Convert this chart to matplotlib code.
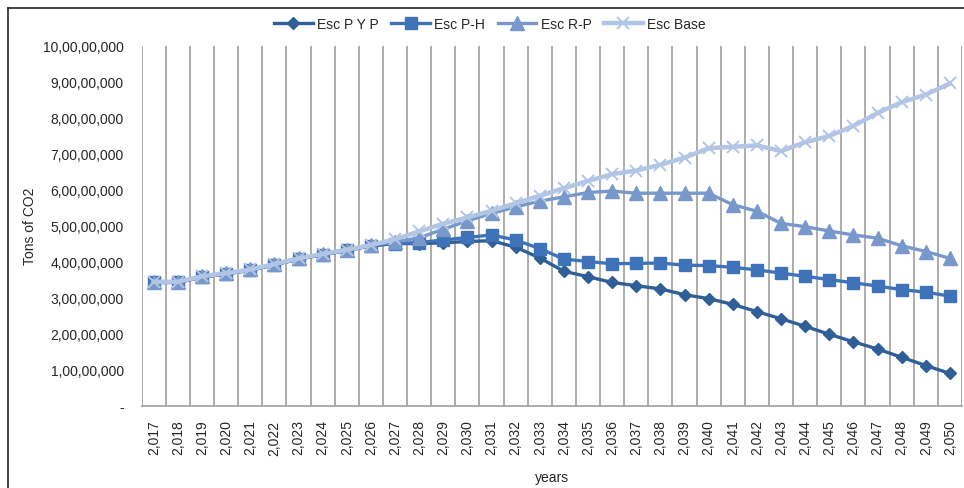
import matplotlib
matplotlib.use("Agg")
import matplotlib.pyplot as plt
from matplotlib.lines import Line2D

years = list(range(2017, 2051))
year_labels = [f"{y // 1000},{y % 1000:03d}" for y in years]

esc_pyp = [3.42, 3.42, 3.57, 3.66, 3.76, 3.91, 4.07, 4.19, 4.31, 4.44,
           4.50, 4.50, 4.52, 4.56, 4.58, 4.40, 4.10, 3.73, 3.58, 3.42,
           3.33, 3.24, 3.08, 2.97, 2.81, 2.61, 2.41, 2.20, 1.98, 1.77,
           1.57, 1.34, 1.11, 0.89]
esc_ph = [3.42, 3.42, 3.57, 3.66, 3.76, 3.91, 4.07, 4.19, 4.31, 4.44,
          4.50, 4.53, 4.60, 4.67, 4.74, 4.60, 4.36, 4.07, 4.00, 3.94,
          3.95, 3.96, 3.90, 3.89, 3.84, 3.77, 3.68, 3.59, 3.50, 3.41,
          3.32, 3.22, 3.15, 3.04]
esc_rp = [3.44, 3.44, 3.59, 3.68, 3.78, 3.93, 4.09, 4.21, 4.33, 4.46,
          4.55, 4.66, 4.90, 5.13, 5.34, 5.52, 5.68, 5.80, 5.92, 5.96,
          5.90, 5.90, 5.90, 5.90, 5.58, 5.40, 5.06, 4.97, 4.85, 4.74,
          4.65, 4.44, 4.28, 4.09]
esc_base = [3.44, 3.44, 3.59, 3.68, 3.78, 3.93, 4.09, 4.21, 4.33, 4.46,
            4.62, 4.84, 5.05, 5.23, 5.41, 5.62, 5.83, 6.04, 6.24, 6.43,
            6.53, 6.69, 6.89, 7.15, 7.19, 7.23, 7.07, 7.32, 7.49, 7.77,
            8.13, 8.43, 8.64, 8.95]
scale = 1e7

y_ticks = [0, 1, 2, 3, 4, 5, 6, 7, 8, 9, 10]
y_labels = ["-", "1,00,00,000", "2,00,00,000", "3,00,00,000", "4,00,00,000",
            "5,00,00,000", "6,00,00,000", "7,00,00,000", "8,00,00,000",
            "9,00,00,000", "10,00,00,000"]

series_names = ["Esc P Y P", "Esc P-H", "Esc R-P", "Esc Base"]

plt.rcParams['font.family'] = ['Liberation Sans', 'DejaVu Sans']
txt = '#262626'

fig = plt.figure(figsize=(9.64, 4.89), dpi=100)
ax = fig.add_axes([141.7 / 964, 1 - 406.5 / 489, (962 - 141.7) / 964, (406.5 - 46.7) / 489])

xs = list(range(len(years)))
styles = [
    dict(color='#2F5F96', marker='D', markersize=6.5, lw=2.4),
    dict(color='#3F73B9', marker='s', markersize=9, lw=2.4),
    dict(color='#7898CC', marker='^', markersize=9.5, lw=2.4),
    dict(color='#B2C5E5', marker='x', markersize=9, lw=3.2, mew=1.4),
]
for vals, name, st in zip([esc_pyp, esc_ph, esc_rp, esc_base], series_names, styles):
    ax.plot(xs, [v * scale for v in vals], label=name, zorder=3, **st)

ax.set_xlim(-0.5, len(years) - 0.5)
ax.set_ylim(0, 10 * scale)
ax.set_xticks(xs)
ax.set_xticklabels(year_labels, rotation=90, fontsize=10, color=txt)
ax.set_xticks([i - 0.5 for i in range(len(years) + 1)], minor=True)
ax.grid(True, which='minor', axis='x', color='#A6A6A6', lw=1.3)
ax.tick_params(axis='x', which='both', length=0, pad=10)
ax.set_yticks([t * scale for t in y_ticks])
ax.set_yticklabels(y_labels, fontsize=10, color=txt)
ax.tick_params(axis='y', length=0, pad=13)
for s in ['top', 'right', 'left']:
    ax.spines[s].set_visible(False)
ax.spines['bottom'].set_color('#A6A6A6')
ax.spines['bottom'].set_linewidth(1.3)

ax.set_xlabel("years", fontsize=10, color=txt, labelpad=11)
ax.set_ylabel("Tons of CO2", fontsize=10, color=txt, labelpad=4)

leg = fig.legend(loc='center', bbox_to_anchor=(0.508, 1 - 25 / 489), ncol=4, frameon=False,
                 fontsize=10, handlelength=2.8, columnspacing=0.9, handletextpad=0.3)
for t in leg.get_texts():
    t.set_color(txt)

fig.add_artist(Line2D([8 / 964, 1], [1 - 9 / 489, 1 - 9 / 489], transform=fig.transFigure, color='#222222', lw=1.2))
fig.add_artist(Line2D([8 / 964, 8 / 964], [0, 1 - 9 / 489], transform=fig.transFigure, color='#222222', lw=1.2))

fig.savefig("out.png", dpi=100)
